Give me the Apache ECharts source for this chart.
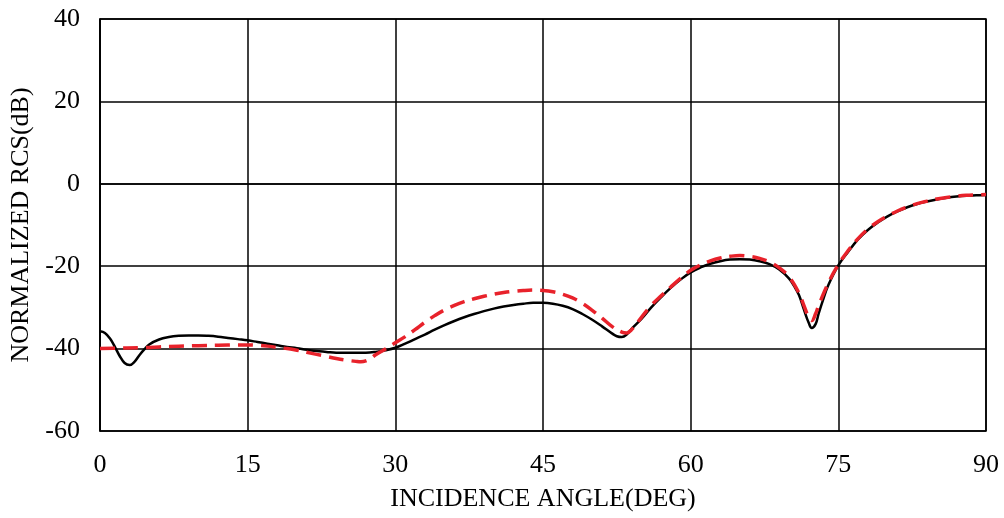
<!DOCTYPE html>
<html>
<head>
<meta charset="utf-8">
<script src="https://cdn.jsdelivr.net/npm/echarts@6/dist/echarts.min.js"></script>
<style>
  html, body { margin: 0; padding: 0; background: #fff; }
  #chart { width: 1004px; height: 518px; }
</style>
</head>
<body>
<div id="chart"></div>
<script>
// Incidence angles (deg) and normalized RCS (dB), solid black curve
const anglesSolid = [0, 0.5, 1, 1.5, 2, 2.5, 3, 3.5, 4, 4.5, 5, 6, 7, 8, 9, 10, 11, 12, 13, 14, 15,
  16, 17, 18, 19, 20, 21, 22, 23, 24, 25, 26, 27, 28, 29, 30, 31, 32, 33, 34, 35, 36, 37, 38, 39, 40,
  41, 42, 43, 44, 45, 46, 47, 48, 49, 50, 51, 52, 52.5, 53, 53.5, 54, 55, 56, 57, 58, 59, 60,
  61, 62, 63, 64, 65, 66, 67, 68, 69, 70, 70.5, 71, 71.5, 72, 72.3, 72.7, 73, 73.5, 74, 75,
  76, 77, 78, 79, 80, 81, 82, 83, 84, 85, 86, 87, 88, 89, 90];
const rcsSolid = [-35.8, -36.2, -37.5, -39.5, -41.8, -43.5, -44.0, -43.2, -41.6, -40.2, -39.0, -37.8, -37.2, -36.9, -36.8, -36.8, -36.9, -37.1, -37.4, -37.7, -38.0,
  -38.4, -38.8, -39.2, -39.6, -39.9, -40.3, -40.6, -40.8, -41.0, -41.0, -41.0, -41.0, -40.8, -40.4, -39.8, -38.8, -37.7, -36.6, -35.4, -34.3, -33.3, -32.4, -31.6, -30.9, -30.3,
  -29.8, -29.4, -29.1, -28.9, -28.9, -29.1, -29.6, -30.4, -31.6, -33.0, -34.6, -36.3, -37.0, -37.2, -36.6, -35.2, -32.8, -30.0, -27.5, -25.2, -23.2, -21.5,
  -20.3, -19.4, -18.8, -18.4, -18.3, -18.4, -18.8, -19.5, -20.8, -23.0, -24.8, -27.0, -30.5, -33.8, -35.0, -34.0, -31.5, -27.8, -24.5, -19.8,
  -16.5, -13.5, -11.2, -9.4, -7.9, -6.7, -5.7, -4.9, -4.3, -3.8, -3.4, -3.1, -2.9, -2.8, -2.7];

// Red dashed curve
const anglesDashed = [0, 2, 4, 6, 8, 10, 12, 14, 15, 16, 17, 18, 19, 20, 21, 22, 23, 24, 25, 26, 26.5, 27, 27.5, 28, 29, 30,
  31, 32, 33, 34, 35, 36, 37, 38, 39, 40, 41, 42, 43, 44, 45, 46, 47, 48, 49, 50, 51, 52, 53, 53.5, 54, 55, 56, 57, 58, 59, 60,
  61, 62, 63, 64, 65, 66, 67, 68, 69, 70, 71, 71.5, 72, 72.3, 72.7, 73, 74, 75,
  76, 77, 78, 79, 80, 81, 82, 83, 84, 85, 86, 87, 88, 89, 90];
const rcsDashed = [-40.0, -39.9, -39.8, -39.6, -39.4, -39.3, -39.2, -39.1, -39.1, -39.2, -39.4, -39.7, -40.0, -40.4, -40.9, -41.4, -41.9, -42.4, -42.8, -43.1, -43.2, -43.0, -42.4, -41.5, -40.1, -38.6,
  -37.1, -35.4, -33.6, -32.0, -30.6, -29.5, -28.6, -27.9, -27.3, -26.8, -26.4, -26.1, -25.9, -25.8, -25.9, -26.2, -26.8, -27.7, -29.0, -30.7, -32.6, -34.6, -36.0, -36.2, -35.4, -32.4, -29.5, -27.2, -25.0, -22.9, -21.0,
  -19.7, -18.7, -18.0, -17.6, -17.4, -17.6, -18.1, -19.0, -20.4, -22.6, -26.5, -29.5, -32.5, -33.2, -31.5, -29.5, -24.0, -19.6,
  -16.2, -13.3, -11.0, -9.2, -7.8, -6.6, -5.6, -4.8, -4.2, -3.7, -3.3, -3.0, -2.8, -2.7, -2.6];

const zip = (xs, ys) => xs.map((x, i) => [x, ys[i]]);

const serif = '"Liberation Serif", "Times New Roman", serif';
const chart = echarts.init(document.getElementById('chart'), null, { renderer: 'canvas' });

chart.setOption({
  animation: false,
  backgroundColor: '#fff',
  grid: {
    left: 100, right: 18, top: 19, bottom: 87,
    show: true, borderColor: '#000', borderWidth: 1.5, backgroundColor: 'transparent'
  },
  xAxis: {
    type: 'value', min: 0, max: 90, interval: 15,
    name: 'INCIDENCE ANGLE(DEG)', nameLocation: 'middle', nameGap: 55,
    nameTextStyle: { fontFamily: serif, fontSize: 26, color: '#000' },
    axisLine: { show: true, lineStyle: { color: '#000', width: 1.5 } },
    axisTick: { show: false },
    axisLabel: { fontFamily: serif, fontSize: 26, color: '#000', margin: 21 },
    splitLine: { show: true, lineStyle: { color: '#000', width: 1.5 } }
  },
  yAxis: {
    type: 'value', min: -60, max: 40, interval: 20,
    name: 'NORMALIZED RCS(dB)', nameLocation: 'middle', nameGap: 66,
    nameTextStyle: { fontFamily: serif, fontSize: 26, color: '#000' },
    axisLine: { show: true, lineStyle: { color: '#000', width: 1.5 } },
    axisTick: { show: false },
    axisLabel: { fontFamily: serif, fontSize: 26, color: '#000', margin: 20 },
    splitLine: { show: true, lineStyle: { color: '#000', width: 1.5 } }
  },
  series: [
    {
      type: 'line', data: zip(anglesSolid, rcsSolid), smooth: 0.4, showSymbol: false,
      lineStyle: { color: '#000', width: 2.5 }, z: 3
    },
    {
      type: 'line', data: zip(anglesDashed, rcsDashed), smooth: 0.4, showSymbol: false,
      lineStyle: { color: '#e8222b', width: 3.5, type: [15, 8] }, z: 4
    }
  ]
});
</script>
</body>
</html>
